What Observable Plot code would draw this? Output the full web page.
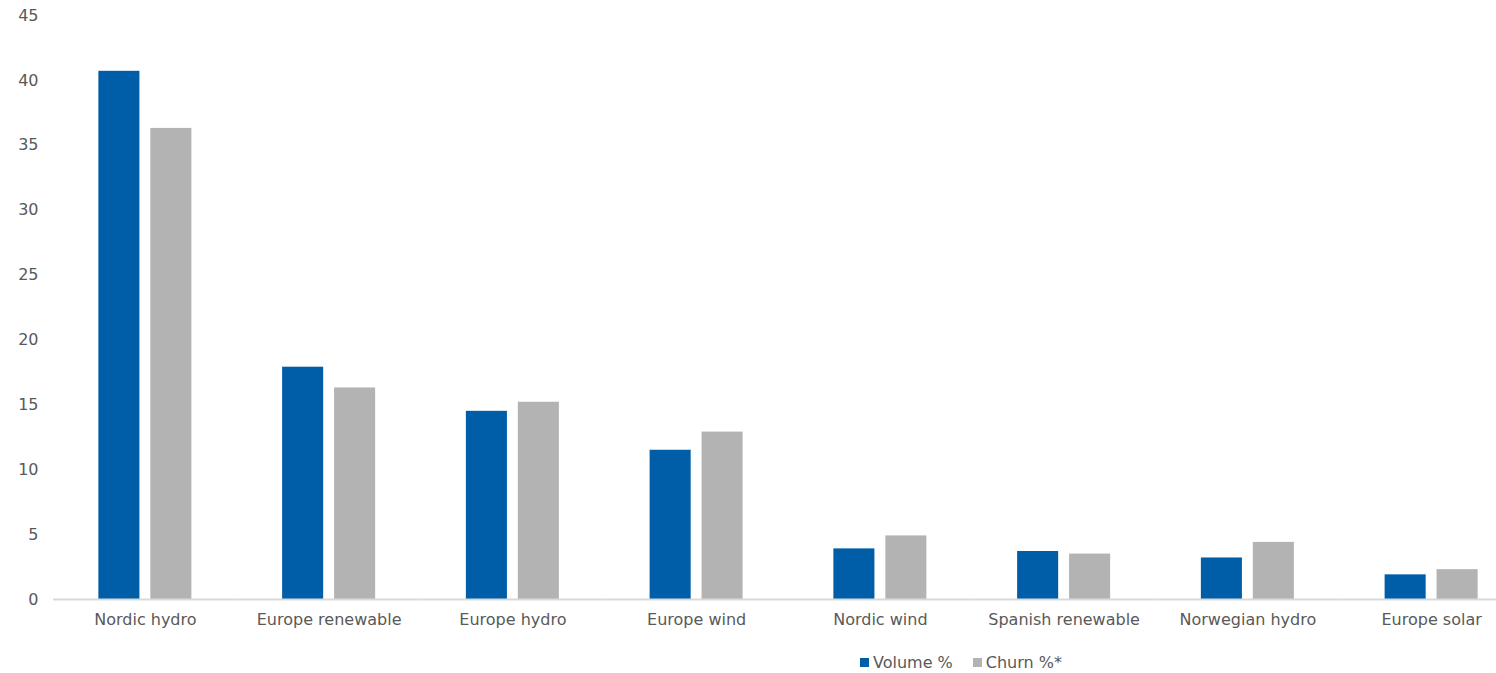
<!DOCTYPE html>
<html>
<head>
<meta charset="utf-8">
<script src="https://cdn.jsdelivr.net/npm/d3@7"></script>
<script src="https://cdn.jsdelivr.net/npm/@observablehq/plot@0.6"></script>
<style>
  html, body { margin: 0; padding: 0; background: #fff; overflow: hidden; }
  body { font-family: "DejaVu Sans", Verdana, sans-serif; color: #595959; }
  #wrap { position: relative; width: 1496px; height: 673px; overflow: hidden; }
  #chart svg { max-width: none !important; display: block; }
  #legend { position: absolute; left: 860px; top: 653px; display: flex; gap: 20px; font-size: 16px; color: #595959; white-space: nowrap; }
  #legend .item { display: flex; align-items: center; }
  #legend .sw { display: inline-block; width: 9px; height: 9px; margin-right: 4px; }
</style>
</head>
<body>
<div id="wrap">
  <div id="chart"></div>
  <div id="legend"></div>
</div>
<script>
// Categories along the x axis
const categories = [
  "Nordic hydro", "Europe renewable", "Europe hydro", "Europe wind",
  "Nordic wind", "Spanish renewable", "Norwegian hydro", "Europe solar"
];
// Series names and colours
const series = ["Volume %", "Churn %*"];
const seriesColors = ["#005EA8", "#B3B3B3"];
// Values per series, in category order
const volume = [40.7, 17.9, 14.5, 11.5, 3.9, 3.7, 3.2, 1.9];
const churn = [36.3, 16.3, 15.2, 12.9, 4.9, 3.5, 4.4, 2.3];
// Y axis ticks
const yTicks = [0, 5, 10, 15, 20, 25, 30, 35, 40, 45];

const rows = [];
categories.forEach((c, i) => {
  rows.push({category: c, series: series[0], value: volume[i]});
  rows.push({category: c, series: series[1], value: churn[i]});
});

// The last category runs past the right edge of the 1496px page, so the
// plot is a little wider than the window and the overflow is clipped.
const chart = Plot.plot({
  width: 1523,
  height: 640,
  marginLeft: 53,
  marginRight: 0,
  marginTop: 15,
  marginBottom: 41,
  style: {fontFamily: '"DejaVu Sans", Verdana, sans-serif', fontSize: "16px", color: "#595959", background: "transparent", maxWidth: "none"},
  fx: {domain: categories, padding: 0, round: false, label: null, tickSize: 0, tickPadding: 14},
  x: {domain: series, paddingInner: 0.21, paddingOuter: 0.873, round: false, axis: null},
  y: {domain: [0, 45], ticks: yTicks, tickSize: 0, tickPadding: 15, label: null},
  color: {domain: series, range: seriesColors},
  marks: [
    Plot.barY(rows, {fx: "category", x: "series", y: "value", fill: "series"}),
    Plot.ruleY([0], {stroke: "#D9D9D9", strokeWidth: 2})
  ]
});
document.getElementById("chart").appendChild(chart);

// Legend built from the same series arrays
const legend = document.getElementById("legend");
series.forEach((s, i) => {
  const item = document.createElement("span");
  item.className = "item";
  const sw = document.createElement("span");
  sw.className = "sw";
  sw.style.background = seriesColors[i];
  item.appendChild(sw);
  item.appendChild(document.createTextNode(s));
  legend.appendChild(item);
});
</script>
</body>
</html>
